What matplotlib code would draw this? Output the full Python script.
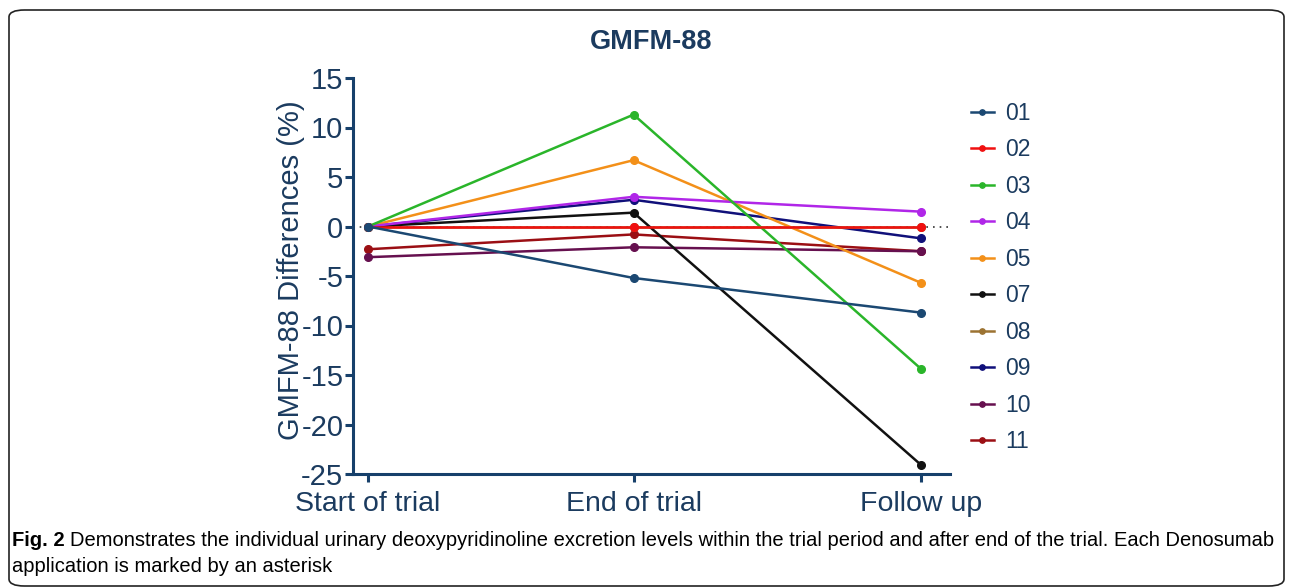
import numpy as np
import matplotlib
matplotlib.use('Agg')
import matplotlib.pyplot as plt
from matplotlib.patches import FancyBboxPatch

plt.rcParams['font.family'] = ['Liberation Sans', 'DejaVu Sans']
plt.rcParams['axes.unicode_minus'] = False

# time points (months from start) and their labels
x_pos = [0, 12, 25]
x_labels = ['Start of trial', 'End of trial', 'Follow up']

patients = ['01', '02', '03', '04', '05', '07', '08', '09', '10', '11']
colors = ['#1b4872', '#f01010', '#2ab52a', '#b026e8', '#f39019',
          '#111111', '#9c7332', '#10107a', '#66104f', '#9b0f14']

# GMFM-88 differences (%) per patient
p01 = [0.0, -5.2, -8.7]
p02 = [0.0, 0.0, 0.0]
p03 = [0.0, 11.3, -14.4]
p04 = [0.0, 3.0, 1.5]
p05 = [0.0, 6.7, -5.7]
p07 = [0.0, 1.4, -24.1]
p08 = [0.0, 0.0, 0.0]
p09 = [0.0, 2.7, -1.2]
p10 = [-3.1, -2.1, -2.5]
p11 = [-2.3, -0.8, -2.5]
values = [p01, p02, p03, p04, p05, p07, p08, p09, p10, p11]

navy = '#17406b'
txt = '#1b3b5f'

fig = plt.figure(figsize=(12.9, 5.88), dpi=100)
ax = fig.add_axes([353 / 1290, 1 - 474 / 588, 597 / 1290, 396 / 588])

ax.axhline(0, color='#333333', ls=(0, (1, 3)), lw=1.2, zorder=1)
for i, (name, c, v) in enumerate(zip(patients, colors, values)):
    ax.plot(x_pos, v, color=c, lw=1.8, marker='o', ms=5.5, label=name,
            zorder=20 - i)

ax.set_xlim(-0.68, 26.3)
ax.set_ylim(-25, 15)
ax.set_yticks(np.arange(-25, 16, 5))
ax.set_xticks(x_pos)
ax.set_xticklabels(x_labels)
for s in ['top', 'right']:
    ax.spines[s].set_visible(False)
for s in ['left', 'bottom']:
    ax.spines[s].set_color(navy)
    ax.spines[s].set_linewidth(2.2)
ax.tick_params(axis='both', colors=navy, width=2.2, length=6,
               labelsize=21, labelcolor=txt, pad=1)
ax.tick_params(axis='x', pad=6, labelsize=20.5)
fig.text(291 / 1290, 1 - 270 / 588, 'GMFM-88 Differences (%)', rotation=90,
         ha='center', va='center', fontsize=21, color=txt)
ax.set_title('GMFM-88', fontsize=19.5, fontweight='bold', color=txt, pad=21)

leg = ax.legend(loc='upper left', bbox_to_anchor=(950 / 1290, 1 - 81 / 588),
                bbox_transform=fig.transFigure, frameon=False, fontsize=16.5,
                handlelength=1.0, handletextpad=0.5, labelspacing=0.59,
                markerscale=0.7)
for t in leg.get_texts():
    t.set_color(txt)

# caption below the chart
cap = dict(family=['Liberation Sans'], fontsize=14.5)
t1 = fig.text(12 / 1290, 1 - 540 / 588, 'Fig. 2', fontweight='bold', va='center', **cap)
fig.canvas.draw()
bb = t1.get_window_extent()
fig.text(bb.x1 / 1290 + 0.004, 1 - 540 / 588,
         'Demonstrates the individual urinary deoxypyridinoline excretion levels within the trial '
         'period and after end of the trial. Each Denosumab', va='center', **cap)
fig.text(12 / 1290, 1 - 567 / 588, 'application is marked by an asterisk', va='center', **cap)

# rounded frame around the whole figure
frame = FancyBboxPatch((9 / 1290, 2 / 588), 1275 / 1290, 576 / 588,
                       boxstyle='round,pad=0,rounding_size=0.012',
                       transform=fig.transFigure, fill=False, ec='#222222', lw=1.2)
fig.patches.append(frame)

fig.savefig('out.png', dpi=100)
